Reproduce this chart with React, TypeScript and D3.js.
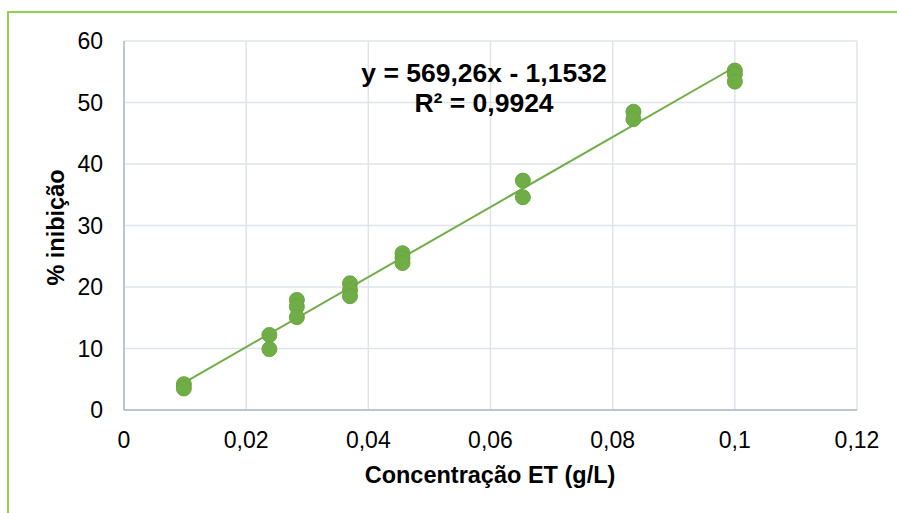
import React from "react";
import * as d3 from "d3";

const concentrations = [0.0098, 0.0098, 0.0238, 0.0238, 0.0283, 0.0283, 0.0283, 0.037, 0.037, 0.037, 0.0456, 0.0456, 0.0456, 0.0653, 0.0653, 0.0834, 0.0834, 0.1, 0.1, 0.1];
const inhibition = [4.2, 3.5, 12.2, 9.9, 17.9, 16.8, 15.1, 20.6, 19.5, 18.5, 25.5, 24.7, 23.9, 37.3, 34.6, 48.5, 47.3, 55.2, 54.6, 53.4];
const xTicks = [0, 0.02, 0.04, 0.06, 0.08, 0.1, 0.12];
const yTicks = [0, 10, 20, 30, 40, 50, 60];
const slope = 569.26;
const intercept = -1.1532;
const equationText = "y = 569,26x - 1,1532";
const r2Text = "R² = 0,9924";
const xTitle = "Concentração ET (g/L)";
const yTitle = "% inibição";

const W = 897;
const H = 513;
const M = { left: 124, right: 857, top: 41, bottom: 410 };
const green = "#70ad47";
const font = "Liberation Sans, Arial, sans-serif";

function fmt(v: number) {
  return String(+v.toFixed(2)).replace(".", ",");
}

export default function App() {
  const x = d3.scaleLinear().domain([0, 0.12]).range([M.left, M.right]);
  const y = d3.scaleLinear().domain([0, 60]).range([M.bottom, M.top]);
  const xMin = d3.min(concentrations) as number;
  const xMax = d3.max(concentrations) as number;
  const line = d3
    .line<number>()
    .x((d) => x(d))
    .y((d) => y(slope * d + intercept));

  return (
    <svg
      width={W}
      height={H}
      style={{ position: "fixed", left: 0, top: 0, background: "#fff" }}
      fontFamily={font}
    >
      <rect x={0} y={0} width={W} height={H} fill="#fff" />
      <rect x={8} y={12} width={W + 20} height={H + 20} fill="none" stroke="#92d050" strokeWidth={2} />
      {xTicks.map((t) => (
        <line key={"gx" + t} x1={x(t)} x2={x(t)} y1={M.top} y2={M.bottom} stroke="#dfe3ea" strokeWidth={1.5} />
      ))}
      {yTicks.map((t) => (
        <line key={"gy" + t} x1={M.left} x2={M.right} y1={y(t)} y2={y(t)} stroke="#dfe3ea" strokeWidth={1.5} />
      ))}
      <line x1={M.left} x2={M.left} y1={M.top} y2={M.bottom} stroke="#adb8ca" strokeWidth={1.5} />
      <line x1={M.left} x2={M.right} y1={M.bottom} y2={M.bottom} stroke="#adb8ca" strokeWidth={1.5} />
      {xTicks.map((t) => (
        <text key={"tx" + t} x={x(t)} y={448} textAnchor="middle" fontSize={23} fill="#000">
          {fmt(t)}
        </text>
      ))}
      {yTicks.map((t) => (
        <text key={"ty" + t} x={103} y={y(t) + 8} textAnchor="end" fontSize={23} fill="#000">
          {fmt(t)}
        </text>
      ))}
      <path d={line([xMin, xMax]) || ""} stroke={green} strokeWidth={2} fill="none" />
      {concentrations.map((c, i) => (
        <circle key={i} cx={x(c)} cy={y(inhibition[i])} r={7.5} fill={green} stroke="#6aa63f" strokeWidth={1} />
      ))}
      <text x={484} y={82} textAnchor="middle" fontSize={26.5} fontWeight="bold" fill="#000">
        {equationText}
      </text>
      <text x={484} y={112} textAnchor="middle" fontSize={26.5} fontWeight="bold" fill="#000">
        {r2Text}
      </text>
      <text x={490} y={483} textAnchor="middle" fontSize={23.5} fontWeight="bold" fill="#000">
        {xTitle}
      </text>
      <text
        transform={`translate(64, ${(M.top + M.bottom) / 2 + 2}) rotate(-90)`}
        textAnchor="middle"
        fontSize={23.5}
        fontWeight="bold"
        fill="#000"
      >
        {yTitle}
      </text>
    </svg>
  );
}
